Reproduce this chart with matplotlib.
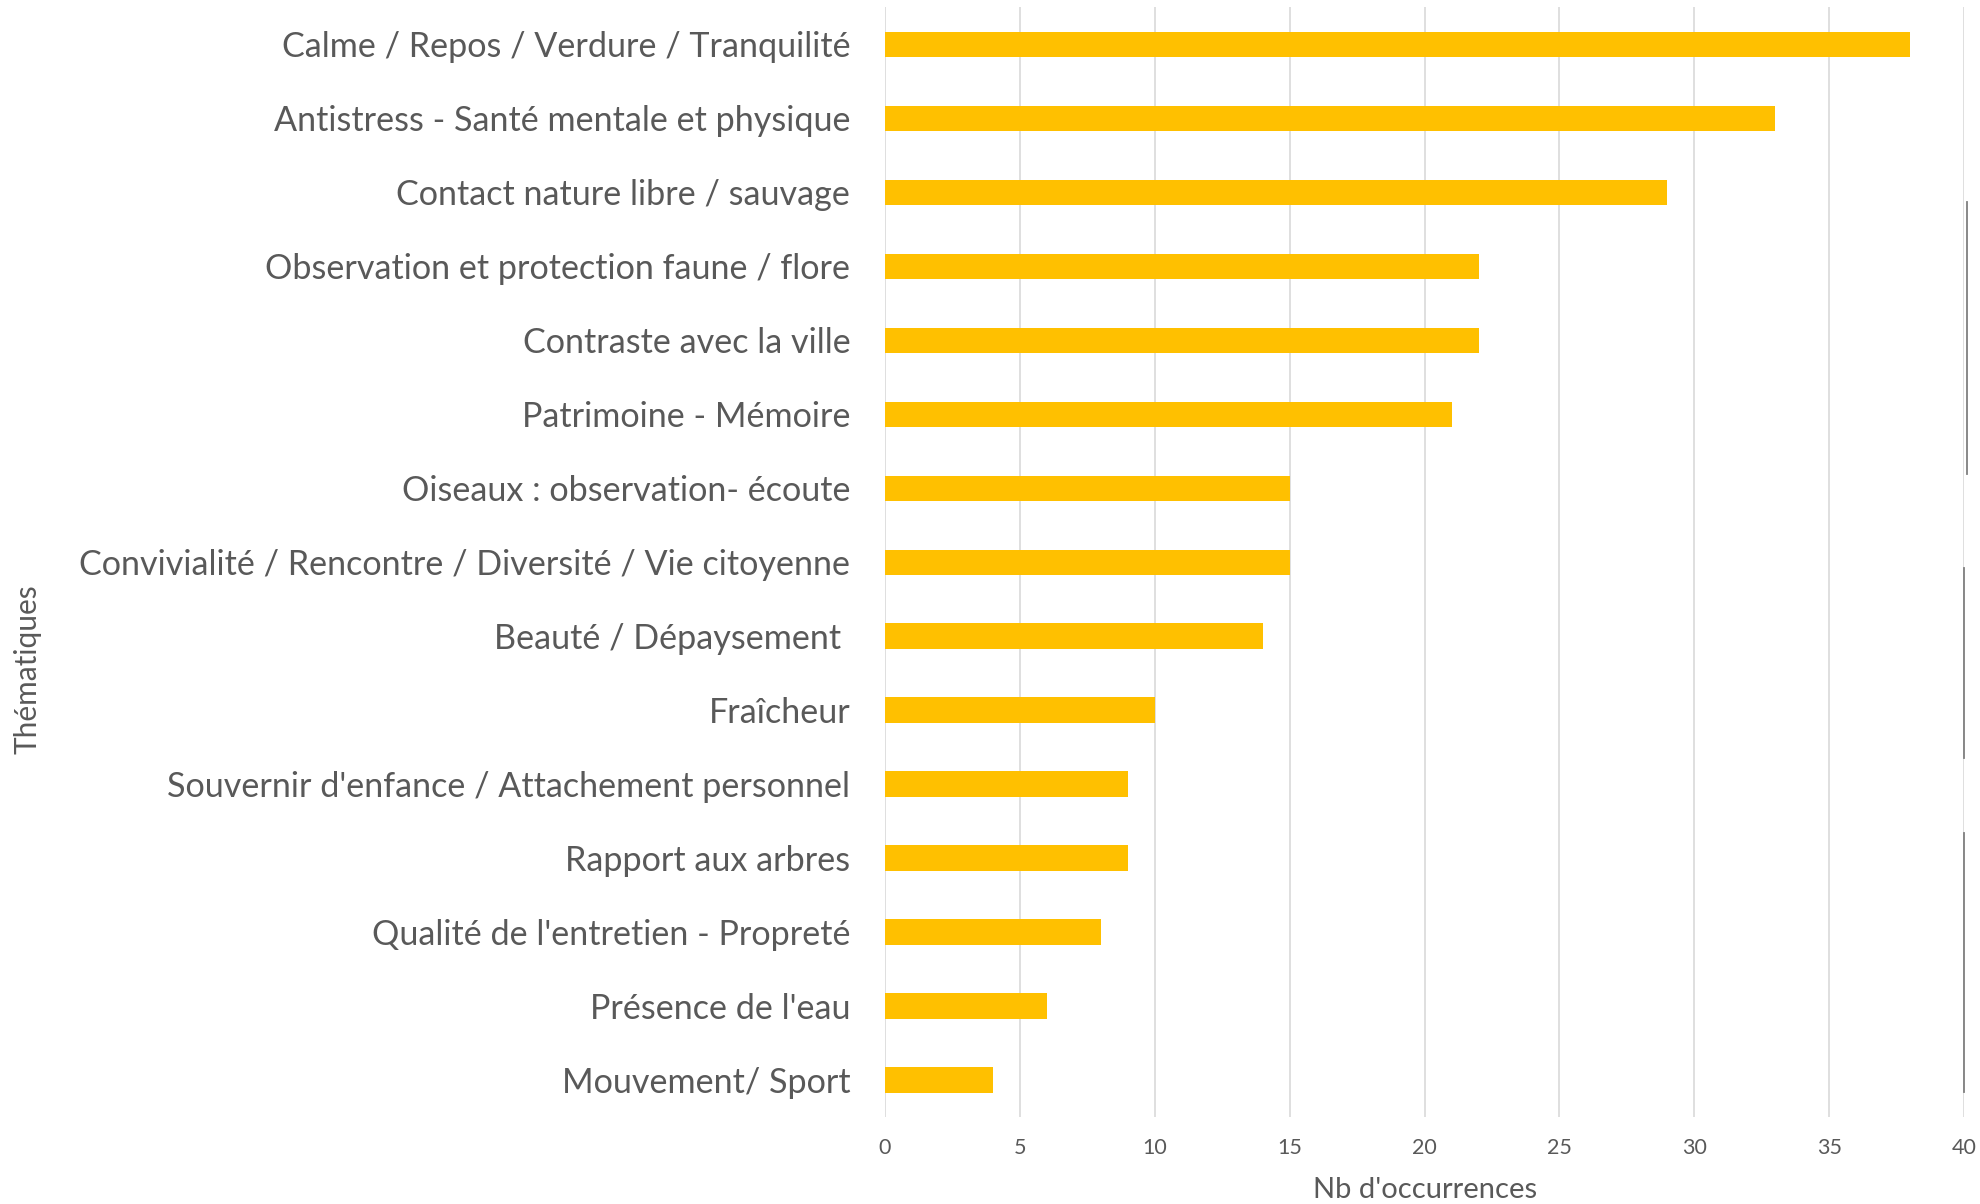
import matplotlib
matplotlib.use("Agg")
import matplotlib.pyplot as plt

categories = [
    "Calme / Repos / Verdure / Tranquilité",
    "Antistress - Santé mentale et physique",
    "Contact nature libre / sauvage",
    "Observation et protection faune / flore",
    "Contraste avec la ville",
    "Patrimoine - Mémoire",
    "Oiseaux : observation- écoute",
    "Convivialité / Rencontre / Diversité / Vie citoyenne",
    "Beauté / Dépaysement ",
    "Fraîcheur",
    "Souvernir d'enfance / Attachement personnel",
    "Rapport aux arbres",
    "Qualité de l'entretien - Propreté",
    "Présence de l'eau",
    "Mouvement/ Sport",
]
values = [38, 33, 29, 22, 22, 21, 15, 15, 14, 10, 9, 9, 8, 6, 4]
x_ticks = [0, 5, 10, 15, 20, 25, 30, 35, 40]

plt.rcParams['font.family'] = ['Lato', 'DejaVu Sans']
TXT = '#595959'

fig = plt.figure(figsize=(19.8, 12.04), dpi=100)
ax = fig.add_axes([0.447, 0.0723, 0.545, 0.9217])

ypos = list(range(len(categories)))
ax.barh(ypos, values, height=0.34, color='#FFC000', zorder=3)
ax.set_ylim(len(categories) - 0.5, -0.5)
ax.set_xlim(0, 40)
ax.set_xticks(x_ticks)
ax.set_xticklabels([str(t) for t in x_ticks], fontsize=15.5, color=TXT)
ax.set_yticks(ypos)
ax.set_yticklabels(categories, fontsize=24.6, color=TXT)
ax.tick_params(axis='both', length=0)
ax.tick_params(axis='x', pad=15.5)
ax.tick_params(axis='y', pad=25)
ax.xaxis.grid(True, color='#D9D9D9', linewidth=1.2, zorder=0)
for s in ax.spines.values():
    s.set_visible(False)

ax.set_xlabel("Nb d'occurrences", fontsize=21, color=TXT, labelpad=13)
fig.text(0.0140, 1 - 669 / 1204, "Thématiques", rotation=90, fontsize=21.5,
         color=TXT, ha='center', va='center')

# cropped edge fragments of neighbouring graphic
for x, y0, y1 in [(1967, 202, 474), (1964, 568, 758), (1964, 833, 1092)]:
    fig.add_artist(plt.Line2D([x / 1980, x / 1980], [1 - y0 / 1204, 1 - y1 / 1204],
                              color='#7F7F7F', linewidth=1.3))

fig.savefig("out.png", dpi=100)
